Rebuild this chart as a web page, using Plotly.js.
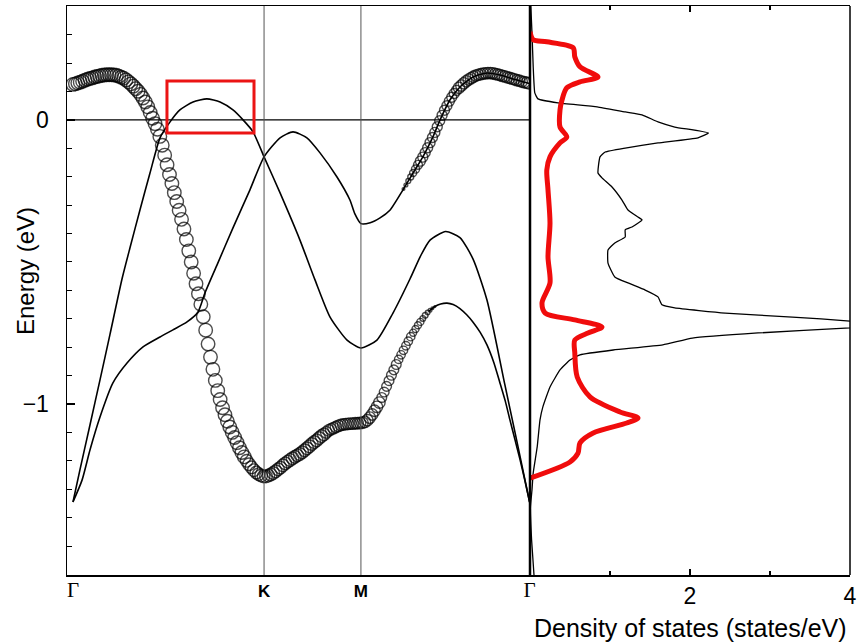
<!DOCTYPE html>
<html><head><meta charset="utf-8">
<script src="https://cdn.plot.ly/plotly-3.0.1.min.js"></script>
<style>html,body{margin:0;padding:0;background:#fff}</style>
</head><body><div id="chart" style="width:857px;height:644px"></div>
<script>
// ---- high-symmetry path ----
const kPathLabels = ['Γ', 'K', 'M', 'Γ'];
const kPathPos = [0, 0.99, 1.492, 2.366];

// ---- fat band A (circles), on the calculation k-grid (step kStep from Γ) ----
const kStep = 0.0125;
const bandA_fatE = [
 0.125,0.127,0.130,0.133,0.136,0.140,0.143,0.146,0.148,0.151,
 0.153,0.155,0.157,0.158,0.159,0.159,0.159,0.158,0.157,0.154,
 0.150,0.147,0.141,0.134,0.127,0.119,0.110,0.101,0.090,0.077,
 0.063,0.046,0.026,0.006,-0.013,-0.033,-0.058,-0.089,-0.124,-0.158,
 -0.192,-0.224,-0.256,-0.287,-0.318,-0.350,-0.384,-0.421,-0.461,-0.500,
 -0.540,-0.577,-0.612,-0.649,-0.693,-0.740,-0.789,-0.835,-0.878,-0.917,
 -0.953,-0.984,-1.013,-1.038,-1.061,-1.081,-1.100,-1.118,-1.136,-1.154,
 -1.171,-1.186,-1.200,-1.212,-1.223,-1.233,-1.241,-1.247,-1.252,-1.255,
 -1.255,-1.252,-1.248,-1.243,-1.237,-1.230,-1.224,-1.216,-1.209,-1.203,
 -1.197,-1.191,-1.186,-1.181,-1.176,-1.170,-1.163,-1.156,-1.149,-1.141,
 -1.134,-1.128,-1.120,-1.113,-1.107,-1.100,-1.093,-1.089,-1.085,-1.081,
 -1.077,-1.074,-1.072,-1.071,-1.070,-1.069,-1.069,-1.068,-1.068,-1.067,
 -1.066,-1.063,-1.057,-1.048,-1.037,-1.024,-1.010,-0.995,-0.977,-0.958,
 -0.938,-0.918,-0.899,-0.880,-0.861,-0.843,-0.827,-0.811,-0.795,-0.779,
 -0.763,-0.749,-0.736,-0.723,-0.711,-0.699,-0.688,-0.678,-0.670,-0.663,
 -0.657];
// orbital weight of band A, run-length encoded: [number of k-points, weight]
const bandA_weightRuns = [[72,1.0],[33,0.93],[23,0.85],[7,0.72],[6,0.62],[4,0.52],[2,0.42],[1,0.34],[1,0.27],[1,0.2],[1,0.13]];
// thin continuation of band A
const bandA_thinK = [1.845,1.875,1.905,1.938,1.97,2.005,2.04,2.073,2.11,2.145,2.18,2.212,2.24,2.264,2.29,2.316,2.34,2.366];
const bandA_thinE = [-0.673,-0.657,-0.648,-0.645,-0.650,-0.664,-0.686,-0.712,-0.748,-0.792,-0.853,-0.925,-0.99,-1.056,-1.125,-1.195,-1.265,-1.345];

// ---- band B (thin line) ----
const bandB_k = [0,0.036,0.088,0.14,0.192,0.254,0.295,0.347,0.399,0.451,0.503,0.554,0.622,0.694,0.762,0.829,0.881,0.933,0.99,1.073,1.176,1.254,1.332,1.42,1.492,1.575,1.658,1.746,1.80,1.85,1.931,2.005,2.073,2.145,2.238,2.29,2.366];
const bandB_E = [-1.345,-1.232,-1.074,-0.915,-0.754,-0.560,-0.451,-0.317,-0.187,-0.063,-0.007,0.035,0.063,0.074,0.063,0.035,0.000,-0.042,-0.130,-0.257,-0.423,-0.563,-0.694,-0.775,-0.803,-0.775,-0.680,-0.560,-0.480,-0.423,-0.393,-0.414,-0.490,-0.634,-0.933,-1.099,-1.345];

// ---- band C (thin line, plus circles from near M to Γ) ----
const bandC_k = [0,0.047,0.088,0.14,0.207,0.28,0.363,0.451,0.518,0.591,0.648,0.684,0.746,0.829,0.917,0.99,1.073,1.14,1.212,1.28,1.368,1.435,1.46,1.492,1.54,1.591,1.642,1.71,1.762,1.813,1.865,1.902,1.953,2.005,2.073,2.145,2.212,2.28,2.366];
const bandC_E = [-1.345,-1.268,-1.162,-1.046,-0.926,-0.856,-0.799,-0.764,-0.739,-0.711,-0.676,-0.609,-0.511,-0.380,-0.246,-0.130,-0.063,-0.042,-0.063,-0.116,-0.201,-0.282,-0.330,-0.365,-0.362,-0.345,-0.318,-0.246,-0.187,-0.130,-0.060,0.000,0.070,0.116,0.151,0.165,0.158,0.144,0.128];
const bandC_fatStartIndex = 137; // first k-grid index carrying circles
const bandC_fatE = [
 -0.243,-0.229,-0.215,-0.201,-0.187,-0.173,-0.158,-0.145,-0.131,-0.115,
 -0.098,-0.080,-0.062,-0.044,-0.024,-0.003,0.016,0.034,0.050,0.066,
 0.080,0.093,0.104,0.113,0.121,0.129,0.136,0.142,0.147,0.152,
 0.156,0.159,0.161,0.163,0.164,0.165,0.165,0.164,0.162,0.160,
 0.158,0.155,0.153,0.150,0.148,0.145,0.143,0.140,0.138,0.135,
 0.133,0.131,0.129];
const bandC_weightRuns = [[1,0.2],[1,0.28],[1,0.36],[1,0.44],[1,0.52],[1,0.6],[1,0.66],[16,0.74],[30,0.84]];

// ---- density of states ----
const dosTotalE = [0.401,0.306,0.187,0.095,0.074,0.060,0.046,0.028,0.018,-0.007,-0.025,-0.046,-0.063,-0.081,-0.099,-0.113,-0.130,-0.187,-0.204,-0.236,-0.282,-0.317,-0.342,-0.352,-0.377,-0.387,-0.412,-0.433,-0.458,-0.504,-0.553,-0.574,-0.599,-0.623,-0.651,-0.662,-0.680,-0.694,-0.708,-0.720,-0.732,-0.750,-0.768,-0.792,-0.810,-0.827,-0.845,-0.880,-0.940,-1.011,-1.056,-1.151,-1.243,-1.303,-1.363,-1.479,-1.602];
const dosTotal = [0.01,0.025,0.04,0.06,0.10,0.35,0.84,1.19,1.40,1.60,1.81,2.23,2.10,1.60,1.19,0.94,0.875,0.85,0.90,1.025,1.15,1.225,1.35,1.40,1.275,1.19,1.19,1.06,0.975,0.975,1.06,1.225,1.44,1.60,1.65,1.81,2.44,3.28,4.0,4.4,4.0,2.85,2.03,1.66,1.04,0.625,0.50,0.375,0.25,0.16,0.125,0.09,0.04,0.025,0.005,0.02,0.05];
const dosPartE = [0.310,0.282,0.275,0.254,0.222,0.187,0.151,0.134,0.113,0.070,0.035,-0.025,-0.060,-0.081,-0.130,-0.176,-0.246,-0.363,-0.482,-0.574,-0.644,-0.680,-0.704,-0.729,-0.750,-0.775,-0.820,-0.905,-0.975,-1.028,-1.049,-1.067,-1.102,-1.137,-1.173,-1.204,-1.261];
const dosPart = [0.00,0.04,0.21,0.54,0.56,0.625,0.85,0.625,0.46,0.40,0.375,0.375,0.46,0.375,0.25,0.21,0.225,0.25,0.225,0.25,0.15,0.19,0.56,0.90,0.725,0.56,0.56,0.59,0.75,1.125,1.35,1.21,0.79,0.625,0.60,0.50,0.00];

// ---- highlighted region (k, E) ----
const boxK = [0.487, 0.938];
const boxE = [-0.046, 0.137];

// ---- build ----
const expandRuns = runs => runs.flatMap(([n, w]) => Array(n).fill(w));
const bandA_weight = expandRuns(bandA_weightRuns);
const bandC_weight = expandRuns(bandC_weightRuns);
const bandA_fatK = bandA_fatE.map((_, i) => +(i * kStep).toFixed(4));
const bandC_fatK = bandC_fatE.map((_, i) => +((bandC_fatStartIndex + i) * kStep).toFixed(4));
const CIRCLE = 13.5;
const serif = s => '<span style="font-family:\'Liberation Serif\',serif;font-size:21px;font-weight:normal">' + s + '</span>';
const kTickText = kPathLabels.map(s => s === 'Γ' ? serif(s) : '<b>' + s + '</b>');

const lineStyle = {color: '#000', width: 1.6, shape: 'spline', smoothing: 0.6};
const traces = [
  {x: bandB_k, y: bandB_E, mode: 'lines', line: lineStyle, xaxis: 'x', yaxis: 'y', hoverinfo: 'skip'},
  {x: bandC_k, y: bandC_E, mode: 'lines', line: lineStyle, xaxis: 'x', yaxis: 'y', hoverinfo: 'skip'},
  {x: bandA_thinK, y: bandA_thinE, mode: 'lines', line: lineStyle, xaxis: 'x', yaxis: 'y', hoverinfo: 'skip'},
  {x: bandA_fatK, y: bandA_fatE, mode: 'markers', xaxis: 'x', yaxis: 'y',
   marker: {symbol: 'circle-open', color: '#000', size: bandA_weight.map(w => w * CIRCLE), line: {width: 1.4, color: '#000'}}},
  {x: bandC_fatK, y: bandC_fatE, mode: 'markers', xaxis: 'x', yaxis: 'y',
   marker: {symbol: 'circle-open', color: '#000', size: bandC_weight.map(w => w * CIRCLE), line: {width: 1.4, color: '#000'}}},
  {x: dosTotal, y: dosTotalE, mode: 'lines', xaxis: 'x2', yaxis: 'y',
   line: {color: '#000', width: 1.3, shape: 'spline', smoothing: 0.4}},
  {x: dosPart, y: dosPartE, mode: 'lines', xaxis: 'x2', yaxis: 'y',
   line: {color: 'rgb(240,12,12)', width: 5, shape: 'spline', smoothing: 0.8}}
];

const split = (530 - 67) / 783;
const layout = {
  width: 857, height: 644,
  margin: {l: 67, r: 7, t: 6, b: 69, pad: 0},
  paper_bgcolor: '#fff', plot_bgcolor: '#fff',
  showlegend: false,
  font: {family: 'Liberation Sans, Arial, sans-serif', color: '#000'},
  xaxis: {domain: [0, split], range: [-0.031, 2.368], anchor: 'y',
    tickmode: 'array', tickvals: kPathPos, ticktext: kTickText, ticks: '',
    tickfont: {size: 17}, showgrid: false, zeroline: false,
    showline: true, mirror: true, linecolor: '#000', linewidth: 1.5},
  xaxis2: {domain: [split, 1], range: [0, 4], anchor: 'y',
    tickmode: 'array', tickvals: [2, 4], ticktext: ['2', '4'],
    ticks: 'inside', ticklen: 6, tickwidth: 1.2, tickcolor: '#000',
    minor: {tickmode: 'array', tickvals: [1, 3], ticks: 'inside', ticklen: 4, tickwidth: 1.2, tickcolor: '#000'},
    tickfont: {size: 23}, showgrid: false, zeroline: false,
    showline: true, mirror: 'ticks', linecolor: '#000', linewidth: 1.5},
  yaxis: {domain: [0, 1], range: [-1.602, 0.401], anchor: 'x',
    tickmode: 'array', tickvals: [0, -1], ticktext: ['0', '−1'],
    ticks: 'inside', ticklen: 8, tickwidth: 1.2, tickcolor: '#000',
    minor: {tickmode: 'linear', tick0: 0, dtick: 0.1, ticks: 'inside', ticklen: 5, tickwidth: 1, tickcolor: '#000'},
    tickfont: {size: 23}, ticklabelstandoff: 12,
    showgrid: false, zeroline: false, showline: true, linecolor: '#000', linewidth: 1.5},
  shapes: [
    {type: 'line', xref: 'x domain', yref: 'y', x0: 0, x1: 1, y0: 0, y1: 0, line: {color: '#000', width: 1.2}},
    {type: 'line', xref: 'x', yref: 'y domain', x0: kPathPos[1], x1: kPathPos[1], y0: 0, y1: 1, line: {color: '#555', width: 1}},
    {type: 'line', xref: 'x', yref: 'y domain', x0: kPathPos[2], x1: kPathPos[2], y0: 0, y1: 1, line: {color: '#555', width: 1}},
    {type: 'line', xref: 'x2 domain', yref: 'y domain', x0: 0, x1: 0, y0: 0, y1: 1, line: {color: '#000', width: 2.5}},
    {type: 'line', xref: 'x2 domain', yref: 'y domain', x0: 1, x1: 1, y0: 0, y1: 1, line: {color: '#000', width: 1.5}},
    {type: 'rect', xref: 'x', yref: 'y', x0: boxK[0], x1: boxK[1], y0: boxE[0], y1: boxE[1], line: {color: 'rgb(235,20,20)', width: 3}, fillcolor: 'rgba(0,0,0,0)'}
  ],
  annotations: [
    {text: 'Energy (eV)', xref: 'paper', yref: 'paper', x: (25 - 67) / 783, y: (575 - 271) / 569,
     xanchor: 'center', yanchor: 'middle', textangle: -90, showarrow: false, font: {size: 24}},
    {text: 'Density of states (states/eV)', xref: 'paper', yref: 'paper', x: (690 - 67) / 783, y: (575 - 628) / 569,
     xanchor: 'center', yanchor: 'middle', showarrow: false, font: {size: 25}}
  ]
};
Plotly.newPlot('chart', traces, layout, {staticPlot: true, displayModeBar: false});
</script>
</body></html>
